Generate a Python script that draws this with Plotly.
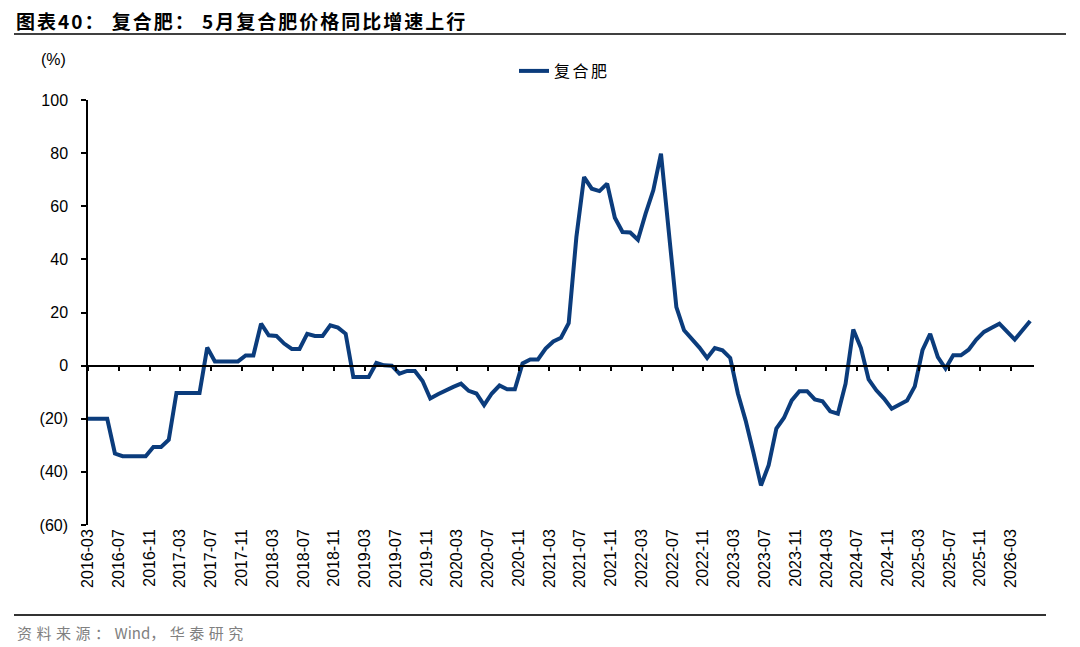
import plotly.graph_objects as go
import numpy as np

# ---------------- data ----------------
months = [
    "2016-02", "2016-03", "2016-04", "2016-05", "2016-06", "2016-07", "2016-08", "2016-09", "2016-10", "2016-11", "2016-12",
    "2017-01", "2017-02", "2017-03", "2017-04", "2017-05", "2017-06", "2017-07", "2017-08", "2017-09", "2017-10", "2017-11", "2017-12",
    "2018-01", "2018-02", "2018-03", "2018-04", "2018-05", "2018-06", "2018-07", "2018-08", "2018-09", "2018-10", "2018-11", "2018-12",
    "2019-01", "2019-02", "2019-03", "2019-04", "2019-05", "2019-06", "2019-07", "2019-08", "2019-09", "2019-10", "2019-11", "2019-12",
    "2020-01", "2020-02", "2020-03", "2020-04", "2020-05", "2020-06", "2020-07", "2020-08", "2020-09", "2020-10", "2020-11", "2020-12",
    "2021-01", "2021-02", "2021-03", "2021-04", "2021-05", "2021-06", "2021-07", "2021-08", "2021-09", "2021-10", "2021-11", "2021-12",
    "2022-01", "2022-02", "2022-03", "2022-04", "2022-05", "2022-06", "2022-07", "2022-08", "2022-09", "2022-10", "2022-11", "2022-12",
    "2023-01", "2023-02", "2023-03", "2023-04", "2023-05", "2023-06", "2023-07", "2023-08", "2023-09", "2023-10", "2023-11", "2023-12",
    "2024-01", "2024-02", "2024-03", "2024-04", "2024-05", "2024-06", "2024-07", "2024-08", "2024-09", "2024-10", "2024-11", "2024-12",
    "2025-01", "2025-02", "2025-03", "2025-04", "2025-05", "2025-06", "2025-07", "2025-08", "2025-09", "2025-10", "2025-11", "2025-12",
    "2026-01", "2026-02", "2026-03", "2026-04", "2026-05",
]

compound_fertilizer_yoy = [
    -20.0, -20.0, -20.0, -20.0, -33.1, -34.1, -34.1, -34.1, -34.1, -30.6, -30.6,
    -27.9, -10.3, -10.3, -10.3, -10.3, 6.8, 1.6, 1.6, 1.6, 1.6, 3.8, 3.8,
    15.8, 11.4, 11.2, 8.3, 6.3, 6.3, 12.0, 11.2, 11.2, 15.2, 14.3, 12.0,
    -4.3, -4.3, -4.3, 1.0, 0.1, 0.0, -3.0, -2.0, -2.0, -5.8, -12.4, -10.8,
    -9.3, -8.0, -6.8, -9.5, -10.5, -14.9, -10.5, -7.5, -8.9, -8.9, 0.8, 2.3,
    2.3, 6.4, 9.1, 10.5, 16.0, 48.4, 71.0, 66.6, 65.7, 68.5, 55.7, 50.3,
    50.1, 47.4, 57.2, 66.0, 79.8, 50.0, 22.0, 13.3, 10.2, 6.8, 2.9, 6.6,
    5.8, 2.9, -10.5, -20.6, -32.5, -45.1, -37.5, -23.7, -19.6, -13.1, -9.6, -9.6,
    -12.7, -13.4, -17.2, -18.1, -6.8, 13.6, 6.6, -5.2, -9.3, -12.4, -16.2, -14.6,
    -13.1, -7.8, 5.8, 12.0, 3.2, -1.1, 3.9, 3.9, 6.0, 9.8, 12.7, 14.3,
    15.8, 12.8, 9.8, 13.3, 16.8,
]

x_tick_labels = [
    "2016-03", "2016-07", "2016-11", "2017-03", "2017-07", "2017-11", "2018-03", "2018-07",
    "2018-11", "2019-03", "2019-07", "2019-11", "2020-03", "2020-07", "2020-11", "2021-03",
    "2021-07", "2021-11", "2022-03", "2022-07", "2022-11", "2023-03", "2023-07", "2023-11",
    "2024-03", "2024-07", "2024-11", "2025-03", "2025-07", "2025-11", "2026-03",
]
y_tick_values = [100, 80, 60, 40, 20, 0, -20, -40, -60]
y_tick_labels = ["100", "80", "60", "40", "20", "0", "(20)", "(40)", "(60)"]

series_name = "复合肥"
title_text = "图表40： 复合肥： 5月复合肥价格同比增速上行"
source_text = ("<span style='letter-spacing:4.5px'>资料来源：</span>Wind"
               "<span style='letter-spacing:4.5px'>，华泰研究</span>")

# ---------------- layout geometry ----------------
W, H = 1080, 647
PL, PR, PT, PB = 88, 1034, 100, 525


def px2x(px):
    return (px - PL) / (PR - PL)


def py2y(py):
    return (PB - py) / (PB - PT)


# month positions: mid-month, origin at 2016-03 start
x_pos = [months.index(m) - 0.5 for m in months]
tick_pos = [months.index(t) - 1 for t in x_tick_labels]
x_range = [0, 123]
y_range = [-60, 100]

LINE_COLOR = "#0b3c7c"
FONT = "Liberation Sans, Arial, Noto Sans CJK SC, sans-serif"
CJK = "Noto Sans CJK SC, Liberation Sans, sans-serif"

fig = go.Figure()
fig.add_trace(go.Scatter(
    x=x_pos, y=compound_fertilizer_yoy, mode="lines",
    name=f"<span style='letter-spacing:2.5px'>{series_name}</span>",
    line=dict(color=LINE_COLOR, width=4), hoverinfo="x+y",
))
# helper trace so the zero-line axis (x2) is drawn
fig.add_trace(go.Scatter(x=[], y=[], xaxis="x2", yaxis="y", showlegend=False, hoverinfo="skip"))

fig.update_layout(
    width=W, height=H,
    margin=dict(l=PL, r=W - PR, t=PT, b=H - PB, pad=0),
    paper_bgcolor="white", plot_bgcolor="white",
    font=dict(family=FONT, size=16, color="black"),
    showlegend=True,
    legend=dict(
        orientation="h", x=px2x(514), y=py2y(71), xanchor="left", yanchor="middle",
        font=dict(family=CJK, size=16, color="black"),
        bgcolor="rgba(0,0,0,0)", itemwidth=30,
    ),
    xaxis=dict(
        range=x_range, tickmode="array", tickvals=tick_pos, ticktext=x_tick_labels,
        tickangle=-90, showline=False, ticks="", showgrid=False, zeroline=False,
        tickfont=dict(family=FONT, size=16, color="black"),
    ),
    xaxis2=dict(
        range=x_range, overlaying="x", anchor="free", position=-y_range[0] / (y_range[1] - y_range[0]),
        side="bottom", tickmode="array", tickvals=tick_pos, showticklabels=False,
        ticks="outside", ticklen=5, tickwidth=1.5, tickcolor="black",
        showline=True, linecolor="black", linewidth=1.5, showgrid=False, zeroline=False,
    ),
    yaxis=dict(
        range=y_range, tickmode="array", tickvals=y_tick_values, ticktext=y_tick_labels,
        ticks="outside", ticklen=5, tickwidth=1.5, tickcolor="black",
        showline=True, linecolor="black", linewidth=1.5, showgrid=False, zeroline=False,
        tickfont=dict(family=FONT, size=16, color="black"), ticklabelstandoff=10,
    ),
    shapes=[
        dict(type="line", xref="paper", yref="paper", x0=px2x(14), x1=px2x(1066),
             y0=py2y(34), y1=py2y(34), line=dict(color="black", width=1.5)),
        dict(type="line", xref="paper", yref="paper", x0=px2x(14), x1=px2x(1046),
             y0=py2y(615), y1=py2y(615), line=dict(color="#333333", width=2)),
    ],
    annotations=[
        dict(text=f"<b><span style='letter-spacing:2px'>{title_text}</span></b>",
             xref="paper", yref="paper", x=px2x(14), y=py2y(20),
             xanchor="left", yanchor="middle", showarrow=False,
             font=dict(family=CJK, size=19, color="black")),
        dict(text="(%)", xref="paper", yref="paper", x=px2x(53), y=py2y(60),
             xanchor="center", yanchor="middle", showarrow=False,
             font=dict(family=FONT, size=16, color="black")),
        dict(text=source_text, xref="paper", yref="paper", x=px2x(15), y=py2y(632),
             xanchor="left", yanchor="middle", showarrow=False,
             font=dict(family=CJK, size=15, color="#808080")),
    ],
)

fig.write_html("out.html")
